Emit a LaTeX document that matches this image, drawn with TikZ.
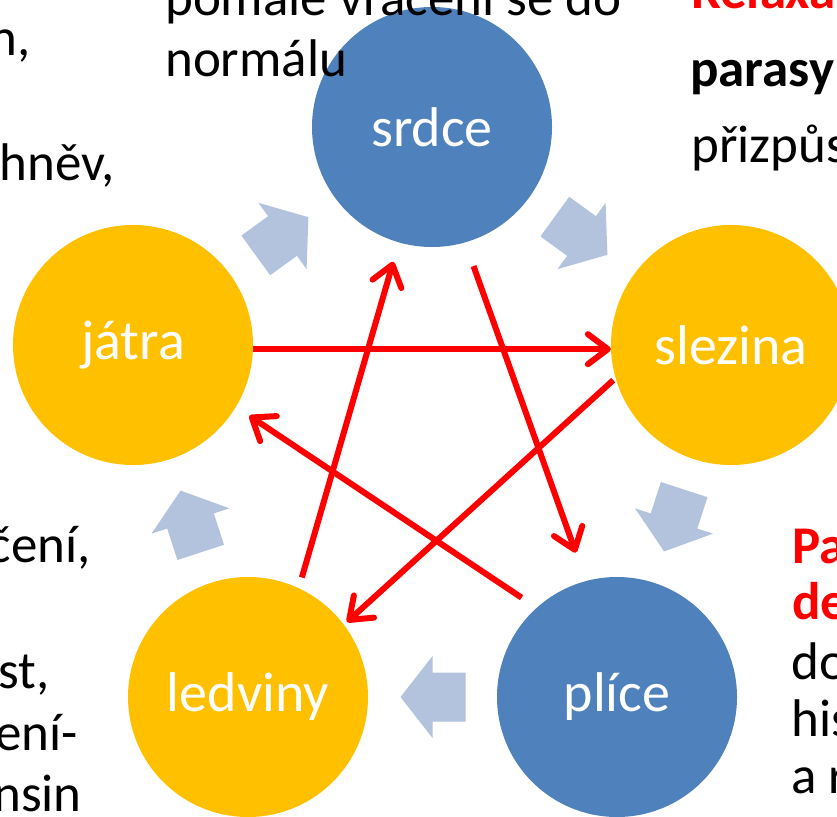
\documentclass[tikz,border=0pt]{standalone}
\usepackage{fontspec}
\setmainfont{Carlito}
\usetikzlibrary{arrows.meta,calc}
\definecolor{cblue}{RGB}{79,129,189}
\definecolor{corange}{RGB}{255,192,0}
\definecolor{clight}{RGB}{179,195,222}
\definecolor{cred}{RGB}{255,0,0}
\tikzset{
  organ/.style={circle, minimum size=240pt, inner sep=0pt, text=white, font=\fontsize{56}{62}\selectfont},
  yin/.style={organ, fill=corange},
  yang/.style={organ, fill=cblue},
  ctrl/.style={draw=cred, line width=6pt, -{Straight Barb[length=20pt,width=30pt,round]}},
  body/.style={inner sep=0pt, font=\fontsize{53}{60}\selectfont},
  bodyE/.style={body, anchor=base east},
  bodyW/.style={body, anchor=base west},
  redbold/.style={text=cred, font=\fontsize{53}{60}\selectfont\bfseries},
  flow/.pic={\fill[clight] (-33,-24.5) -- (0,-24.5) -- (0,-41) -- (32,0) -- (0,41) -- (0,24.5) -- (-33,24.5) -- cycle;}
}
\begin{document}
\begin{tikzpicture}[x=1pt,y=-1pt]
\useasboundingbox (0,0) rectangle (837,816);
\clip (0,0) rectangle (837,816);
\fill[white] (0,0) rectangle (837,816);

% organs
\node[yang] (srdce) at (432,127) {srdce};
\node[yin] (jatra) at (133,345) {játra};
\node[yin] (slezina) at (731,345) {slezina};
\node[yin] (ledviny) at (248,697) {ledviny};
\node[yang] (plice) at (617,697) {plíce};

% side texts (drawn over the circles)
\node[bodyW] (t1) at (165,16) {pomalé vracení se do};
\node[bodyW] (t2) at (165,76) {normálu};
\node[bodyE] (t3) at (31,56) {n,};
\node[bodyE] (t4) at (115,180) {hněv,};
\node[bodyE] (t5) at (91,562) {čení,};
\node[bodyE] (t6) at (50,688) {st,};
\node[bodyE] (t7) at (78,750) {ení-};
\node[bodyE] (t8) at (82,811) {nsin};
\node[bodyW, redbold] (t9) at (691,9) {Relaxa};
\node[bodyW, font=\fontsize{53}{60}\selectfont\bfseries] (t10) at (690,86) {parasym};
\node[bodyW] (t11) at (691,162) {přizpůs};
\node[bodyW, redbold] (t12) at (792,563) {Pa};
\node[bodyW, redbold] (t13) at (792,619) {de};
\node[bodyW] (t14) at (791,679) {do};
\node[bodyW] (t15) at (791,736) {his};
\node[bodyW] (t16) at (791,793) {a r};

% generating cycle (block arrows)
\pic[rotate=-36] at ($(srdce)!0.5!(slezina)$) {flow};
\pic[rotate=-108] at ($(slezina)!0.5!(plice)$) {flow};
\pic[rotate=180] at ($(plice)!0.5!(ledviny)$) {flow};
\pic[rotate=108] at ($(ledviny)!0.5!(jatra)$) {flow};
\pic[rotate=36] at ($(jatra)!0.5!(srdce)$) {flow};

% controlling cycle (red arrows)
\draw[ctrl] (jatra.-2.4) -- (slezina.182.4);
\draw[ctrl, shorten <=25pt, shorten >=30pt] (srdce.-74) -- (plice.105);
\draw[ctrl, shorten <=3pt, shorten >=4pt] (slezina.196.5) -- (ledviny.37);
\draw[ctrl, shorten <=18pt, shorten >=16pt] (plice.132.4) -- (jatra.-31);
\draw[ctrl, shorten <=11pt, shorten >=20pt] (ledviny.65.6) -- (srdce.254);
\end{tikzpicture}
\end{document}
